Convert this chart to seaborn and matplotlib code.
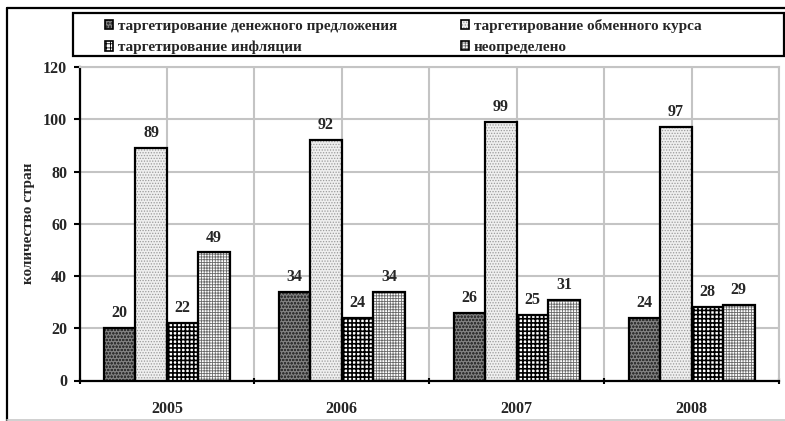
import matplotlib
matplotlib.use("Agg")
import matplotlib.pyplot as plt
from matplotlib.patches import Patch, Rectangle
from matplotlib.lines import Line2D
from matplotlib.legend_handler import HandlerTuple
from matplotlib.ticker import MultipleLocator, FixedLocator
import seaborn as sns
import pandas as pd

# --- data -------------------------------------------------------------
years = ["2005", "2006", "2007", "2008"]
regimes = [
    "таргетирование денежного предложения",
    "таргетирование обменного курса",
    "таргетирование инфляции",
    "неопределено",
]
money_supply = [20, 34, 26, 24]
exchange_rate = [89, 92, 99, 97]
inflation = [22, 24, 25, 28]
undefined = [49, 34, 31, 29]
y_ticks = [0, 20, 40, 60, 80, 100, 120]
y_label = "количество стран"

series = [money_supply, exchange_rate, inflation, undefined]
df = pd.DataFrame(
    [(y, r, v) for r, vals in zip(regimes, series) for y, v in zip(years, vals)],
    columns=["year", "regime", "count"],
)

# --- styles: face colour, hatch, hatch colour, hatch line width ---------
styles = [
    ("#808080", "ooooo", "#333333", 0.6),
    ("#efefef", "......", "#9a9a9a", 0.6),
    ("#ffffff", "++++", "#000000", 1.2),
    ("#ffffff", "++++++", "#6a6a6a", 0.6),
]

sns.set_theme(style="white")
plt.rcParams["font.family"] = ["Liberation Serif", "DejaVu Serif"]
plt.rcParams["font.weight"] = "bold"
plt.rcParams["hatch.linewidth"] = 0.6

fig = plt.figure(figsize=(7.85, 4.21), dpi=100)
ax = fig.add_axes([79.5 / 785, 1 - 380.5 / 421, (779 - 79.5) / 785, (380.5 - 67) / 421])

sns.barplot(
    data=df, x="year", y="count", hue="regime", order=years, hue_order=regimes,
    width=0.72, saturation=1, legend=False, ax=ax, zorder=3,
)

# apply patterns per series, then outline every bar in black
for container, (fc, hatch, hc, hlw) in zip(ax.containers, styles):
    for p in container.patches:
        p.set_facecolor(fc)
        p.set_hatch(hatch)
        p.set_edgecolor(hc)
        p.set_linewidth(0)
        if hasattr(p, "set_hatch_linewidth"):
            p.set_hatch_linewidth(hlw)
        ax.add_patch(Rectangle(p.get_xy(), p.get_width(), p.get_height(),
                               fill=False, ec="black", lw=1.6, zorder=4))
    ax.bar_label(container, padding=5, fontsize=11.5, fontweight="bold", zorder=5)

# axes, ticks and grid
ax.set_xlim(-0.5, len(years) - 0.5)
ax.set_ylim(0, 120)
ax.yaxis.set_major_locator(FixedLocator(y_ticks))
ax.xaxis.set_major_locator(FixedLocator(range(len(years))))
ax.xaxis.set_minor_locator(MultipleLocator(1, offset=0.5))
ax.set_xticklabels(years)
ax.tick_params(axis="x", which="major", length=0, pad=15, labelsize=11.5)
ax.tick_params(axis="x", which="minor", length=4, width=1.5, color="black",
               direction="inout", bottom=True)
ax.tick_params(axis="y", length=4, width=1.5, color="black", left=True,
               labelsize=11.5, pad=5)
for lab in ax.get_xticklabels() + ax.get_yticklabels():
    lab.set_fontweight("bold")

ax.grid(True, which="both", axis="x", color="#c4c4c4", lw=1.5, zorder=0)
ax.grid(True, which="major", axis="y", color="#c4c4c4", lw=1.5, zorder=0)
ax.set_axisbelow(True)
for s in ("left", "bottom"):
    ax.spines[s].set_color("black")
    ax.spines[s].set_linewidth(1.6)
for s in ("top", "right"):
    ax.spines[s].set_color("#c4c4c4")
    ax.spines[s].set_linewidth(1.5)

ax.set_xlabel("")
ax.set_ylabel(y_label, fontsize=11, fontweight="bold", labelpad=6)

# legend with patterned swatches inside a framed box
handles = []
for fc, hatch, hc, hlw in styles:
    h = Patch(facecolor=fc, edgecolor=hc, hatch=hatch, lw=0)
    o = Patch(fill=False, edgecolor="black", lw=1.2)
    handles.append((h, o))
order = [0, 2, 1, 3]
leg = fig.legend(
    [handles[i] for i in order], [regimes[i] for i in order],
    handler_map={tuple: HandlerTuple(ndivide=1, pad=0)},
    ncol=2, loc="upper left", bbox_to_anchor=(100 / 785, 1 - 14 / 421),
    frameon=False, prop={"weight": "bold", "size": 11},
    handlelength=0.55, handleheight=0.55, handletextpad=0.3,
    columnspacing=4.2, labelspacing=0.55, borderaxespad=0, borderpad=0.3,
)
fig.add_artist(Rectangle((73 / 785, 1 - 56 / 421), (784 - 73) / 785, 43 / 421,
                         transform=fig.transFigure, fill=False, ec="black", lw=1.6))

# outer frame of the chart area
fig.add_artist(Line2D([7 / 785, 7 / 785], [0, 1 - 8 / 421], transform=fig.transFigure,
                      color="black", lw=1.6))
fig.add_artist(Line2D([7 / 785, 1], [1 - 8 / 421, 1 - 8 / 421], transform=fig.transFigure,
                      color="black", lw=1.6))
fig.add_artist(Line2D([7 / 785, 1], [1 / 421, 1 / 421], transform=fig.transFigure,
                      color="#c8c8c8", lw=1.2))

fig.savefig("out.png", dpi=100)
